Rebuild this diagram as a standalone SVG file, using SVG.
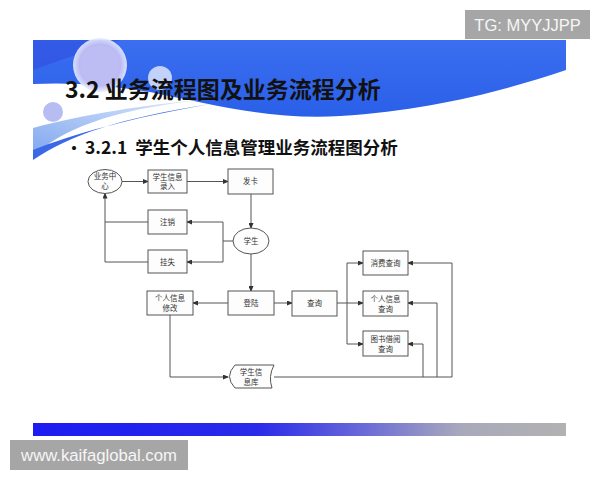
<svg xmlns="http://www.w3.org/2000/svg" width="600" height="480" viewBox="0 0 600 480">
<defs>
<style>
.box{fill:#fdfdfd;stroke:#555;stroke-width:1}
.t{font-family:"Noto Sans CJK SC","Noto Sans",sans-serif;font-size:7.5px;fill:#333;text-anchor:middle}
.c{fill:none;stroke:#555;stroke-width:1}
.wm{fill:#a6a6a6}
.wmt{font-family:"Liberation Sans",Arial,sans-serif;fill:#f6f6f6}
</style>
<marker id="ah" markerWidth="6" markerHeight="5" refX="5" refY="2.5" orient="auto" markerUnits="userSpaceOnUse">
<path d="M0,0 L6,2.5 L0,5 Z" fill="#333"/>
</marker>
<linearGradient id="bar" x1="0" y1="0" x2="1" y2="0">
<stop offset="0" stop-color="#1c1cf2"/>
<stop offset="0.42" stop-color="#2a2aea"/>
<stop offset="0.62" stop-color="#6a6ad8"/>
<stop offset="0.8" stop-color="#a8a8bc"/>
<stop offset="1" stop-color="#b2b2b2"/>
</linearGradient>
<linearGradient id="hdr" x1="0" y1="0" x2="0" y2="1">
<stop offset="0" stop-color="#3b6ef0"/>
<stop offset="1" stop-color="#2a5fe8"/>
</linearGradient>
<radialGradient id="glow" cx="0.5" cy="0.5" r="0.5">
<stop offset="0" stop-color="#c8c8f4"/>
<stop offset="0.75" stop-color="#b8b8f2"/>
<stop offset="1" stop-color="#e8ecff" stop-opacity="0.9"/>
</radialGradient>
<linearGradient id="swoosh" x1="0" y1="1" x2="1" y2="0">
<stop offset="0" stop-color="#7fa6ef"/>
<stop offset="1" stop-color="#dce8fb"/>
</linearGradient>
</defs>
<rect width="600" height="480" fill="#ffffff"/>
<!-- header -->
<g id="header">
<path d="M33,40 H566 V70 C500,92 430,110 340,116 C270,120 210,104 150,92 C110,85 70,82 33,84 Z" fill="url(#hdr)"/>
<path d="M33,40 H120 C90,50 60,60 33,70 Z" fill="#2f4fe0" opacity="0.6"/>
<path d="M33,157 C60,130 110,110 200,100 C150,104 80,115 33,128 Z" fill="url(#swoosh)"/>
<path d="M33,160 C70,135 120,118 210,104 C130,118 70,135 33,150 Z" fill="#3a68e6"/>
<circle cx="100" cy="65" r="27" fill="url(#glow)"/>
<circle cx="100" cy="65" r="20" fill="#bdbdf3"/>
<circle cx="160" cy="78" r="12" fill="#e6ecfd" opacity="0.8"/>
<circle cx="53" cy="112" r="10" fill="#b7bdf3"/>
<text x="65" y="98" font-family="'Noto Sans CJK SC','Noto Sans',sans-serif" font-size="23" font-weight="bold" fill="#111">3.2 业务流程图及业务流程分析</text>
<text x="66" y="154" font-family="'Noto Sans CJK SC','Noto Sans',sans-serif" font-size="16" font-weight="bold" fill="#111">•</text>
<text x="85" y="154" font-family="'Noto Sans CJK SC','Noto Sans',sans-serif" font-size="17.5" font-weight="bold" fill="#111" xml:space="preserve">3.2.1  学生个人信息管理业务流程图分析</text>
</g>
<!-- connectors -->
<g id="connectors">
<path class="c" d="M122,181.5 H148" marker-end="url(#ah)"/>
<path class="c" d="M187,181.5 H228" marker-end="url(#ah)"/>
<path class="c" d="M251,194 V228" marker-end="url(#ah)"/>
<path class="c" d="M233,241 H223 V222 H187" marker-end="url(#ah)"/>
<path class="c" d="M223,241 V262 H187" marker-end="url(#ah)"/>
<path class="c" d="M148,222 H105"/>
<path class="c" d="M148,262 H105 V193.5" marker-end="url(#ah)"/>
<path class="c" d="M251,254 V291" marker-end="url(#ah)"/>
<path class="c" d="M228,303 H193" marker-end="url(#ah)"/>
<path class="c" d="M274,303 H292" marker-end="url(#ah)"/>
<path class="c" d="M337,303 H363" marker-end="url(#ah)"/>
<path class="c" d="M347,303 V263 H363" marker-end="url(#ah)"/>
<path class="c" d="M347,303 V344 H363" marker-end="url(#ah)"/>
<path class="c" d="M170,315 V377 H228" marker-end="url(#ah)"/>
<path class="c" d="M274,377 H452 V263 H408" marker-end="url(#ah)"/>
<path class="c" d="M437,377 V303 H408" marker-end="url(#ah)"/>
<path class="c" d="M423,377 V344 H408" marker-end="url(#ah)"/>
</g>
<!-- nodes -->
<g id="n-center"><ellipse class="box" cx="105" cy="181.5" rx="17" ry="12"/><text class="t" x="105" y="179">业务中</text><text class="t" x="105" y="189">心</text></g>
<g id="n-entry"><rect class="box" x="148" y="170" width="39" height="23"/><text class="t" x="167.5" y="179.5">学生信息</text><text class="t" x="167.5" y="189">录入</text></g>
<g id="n-card"><rect class="box" x="228" y="169" width="45" height="25"/><text class="t" x="250.5" y="184">发卡</text></g>
<g id="n-cancel"><rect class="box" x="148" y="210" width="39" height="24"/><text class="t" x="167.5" y="224.5">注销</text></g>
<g id="n-lost"><rect class="box" x="148" y="250" width="39" height="23"/><text class="t" x="167.5" y="264.5">挂失</text></g>
<g id="n-student"><ellipse class="box" cx="251" cy="241" rx="18" ry="13"/><text class="t" x="251" y="244">学生</text></g>
<g id="n-modify"><rect class="box" x="147" y="291" width="46" height="24"/><text class="t" x="170" y="301">个人信息</text><text class="t" x="170" y="311">修改</text></g>
<g id="n-login"><rect class="box" x="228" y="291" width="46" height="24"/><text class="t" x="251" y="305.5">登陆</text></g>
<g id="n-query"><rect class="box" x="292" y="291" width="45" height="25"/><text class="t" x="314.5" y="306">查询</text></g>
<g id="n-consume"><rect class="box" x="363" y="251" width="45" height="24"/><text class="t" x="385.5" y="265.5">消费查询</text></g>
<g id="n-info"><rect class="box" x="363" y="291" width="45" height="25"/><text class="t" x="385.5" y="301.5">个人信息</text><text class="t" x="385.5" y="311.5">查询</text></g>
<g id="n-library"><rect class="box" x="363" y="331" width="45" height="25"/><text class="t" x="385.5" y="341.5">图书借阅</text><text class="t" x="385.5" y="351.5">查询</text></g>
<g id="n-db"><path class="box" d="M235,365 H274 Q268,376.5 272,388 H235 Q224,376.5 235,365 Z"/><text class="t" x="251" y="374.5">学生信</text><text class="t" x="251" y="384.5">息库</text></g>
<!-- bottom bar -->
<rect x="33" y="423" width="533" height="13" fill="url(#bar)"/>
<!-- watermarks -->
<g id="wm-tg"><rect class="wm" x="465" y="10" width="125" height="29"/><text class="wmt" x="527.5" y="30.5" font-size="16.5" text-anchor="middle">TG: MYYJJPP</text></g>
<g id="wm-url"><rect class="wm" x="10" y="440" width="178" height="30"/><text class="wmt" x="99" y="460.5" font-size="16.7" text-anchor="middle">www.kaifaglobal.com</text></g>
</svg>
